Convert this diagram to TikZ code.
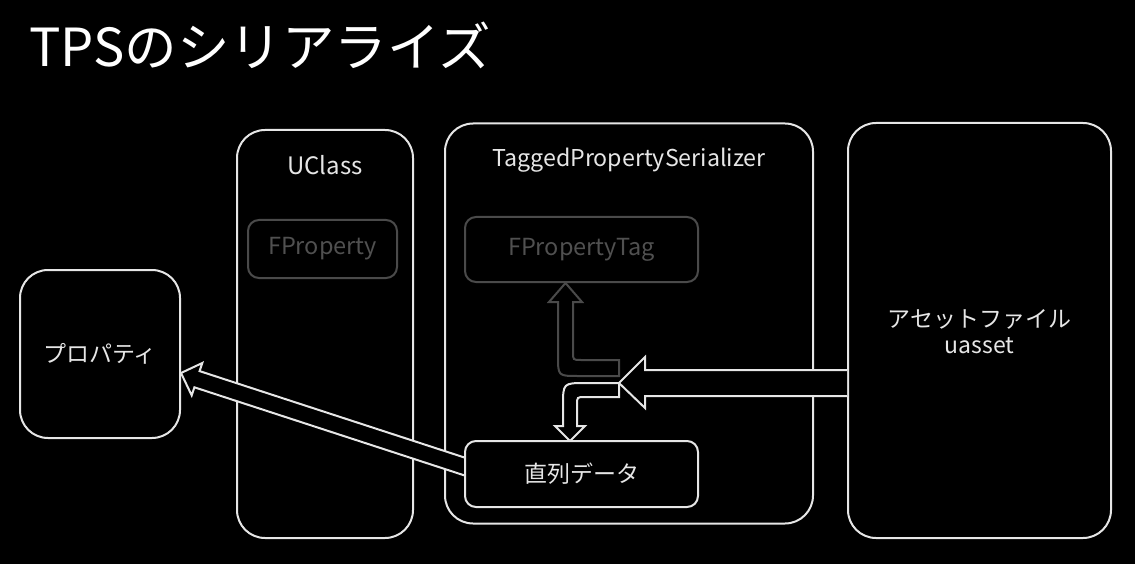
\documentclass[tikz,border=0pt]{standalone}
\usepackage{fontspec}
\setmainfont{Noto Sans CJK JP}
\definecolor{fg}{HTML}{E6E6E6}
\definecolor{dim}{HTML}{4A4A4A}
\definecolor{dimtext}{HTML}{505050}
\begin{document}
\begin{tikzpicture}[x=1pt,y=-1pt,
  box/.style={draw=fg,line width=2pt,fill=black,rounded corners=28pt,inner sep=0pt},
  inbox/.style={draw=fg,line width=2pt,fill=black,rounded corners=11pt,inner sep=0pt},
  grayb/.style={draw=dim,line width=2pt,fill=black,rounded corners=11pt,inner sep=0pt},
  txt/.style={text=fg,font=\fontsize{23}{26}\selectfont,inner sep=0pt,align=center},
  gtxt/.style={text=dimtext,font=\fontsize{23.5}{26}\selectfont,inner sep=0pt},
  blockarrow/.style={draw=fg,line width=2pt,fill=black,line join=miter},
  grayarrow/.style={draw=dim,line width=2pt,fill=black,line join=miter}]
\fill[black] (0,0) rectangle (1135,564);
\useasboundingbox (0,0) rectangle (1135,564);
% title
\node[anchor=west,text=white,font=\fontsize{52.5}{64}\selectfont,inner sep=0pt] (title) at (29,45) {TPSのシリアライズ};
% containers
\node[box,minimum width=160pt,minimum height=168pt] (prop) at (100,354) {};
\node[box,minimum width=176pt,minimum height=408pt] (uclass) at (325,334) {};
\node[box,minimum width=368pt,minimum height=400pt] (tps) at (629,323.5) {};
\node[box,minimum width=263pt,minimum height=415pt] (asset) at (979.5,330.5) {};
% labels
\node[txt] (proplbl) at (prop.center) {プロパティ};
\node[txt,font=\fontsize{24}{26}\selectfont] (uclasslbl) at (325,165) {UClass};
\node[txt,font=\fontsize{23.2}{26}\selectfont] (tpslbl) at (629,160) {TaggedPropertySerializer};
\node[txt] (assetlbl) at (979.5,332) {アセットファイル\\uasset};
% inner boxes
\node[grayb,minimum width=149pt,minimum height=58pt] (fprop) at (322.5,249) {};
\node[gtxt] at (fprop.center) {FProperty};
\node[grayb,minimum width=233pt,minimum height=65pt] (fptag) at (581.5,249.5) {};
\node[gtxt] at (fptag.center) {FPropertyTag};
\coordinate (tagtip) at (fptag.south -| 565.5,0);
\coordinate (datatip) at (570,441);
% big arrow from asset
\draw[blockarrow] (asset.west |- 0,370) -- (645,370) -- (645,357) -- (619,383) -- (645,408) -- (645,396) -- (asset.west |- 0,396);
% gray bent arrow up to FPropertyTag
\draw[grayarrow] (619,360) -- (581,360) .. controls (573,360) .. (573,352) -- (573,302) -- (582,302) -- (tagtip) -- (549,302) -- (558,302) -- (558,356) .. controls (558,376) .. (578,376) -- (619,376) -- cycle;
% white bent arrow down to data
\draw[blockarrow] (619,383) -- (586,383) .. controls (563,383) .. (563,406) -- (563,426) -- (555,426) -- (datatip) -- (585,426) -- (577,426) -- (577,405) .. controls (577,397) .. (585,397) -- (619,397) -- cycle;
% diagonal arrow from data to property
\draw[blockarrow] (465,457.7) -- (199.6,371.1) -- (202.3,363) -- (prop.east |- 0,373) -- (191.7,395.4) -- (194.4,387.3) -- (465,475.6);
% serialized data box
\node[inbox,minimum width=233pt,minimum height=66pt] (data) at (581.5,474) {};
\node[txt] at (data.center) {直列データ};
\end{tikzpicture}
\end{document}
